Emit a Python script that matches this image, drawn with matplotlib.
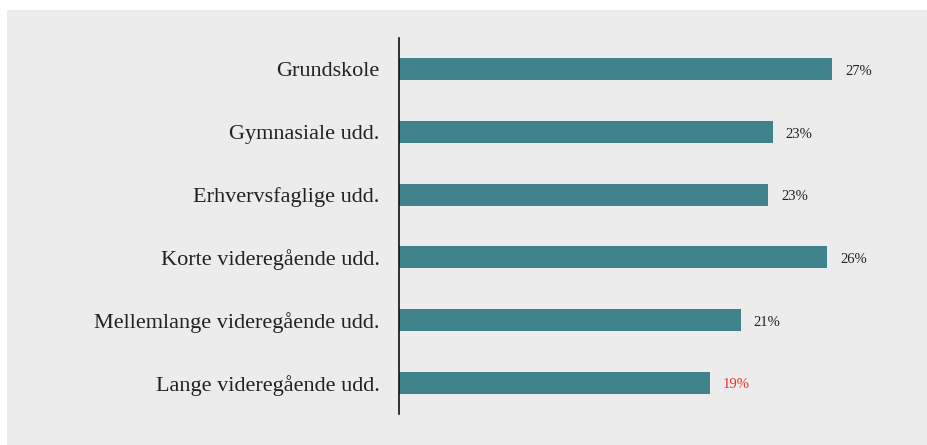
import matplotlib.pyplot as plt
from matplotlib.patches import Rectangle

categories = ['Grundskole', 'Gymnasiale udd.', 'Erhvervsfaglige udd.',
              'Korte videregående udd.', 'Mellemlange videregående udd.',
              'Lange videregående udd.']
values = [27.0, 23.3, 23.0, 26.7, 21.3, 19.4]
labels = ['27%', '23%', '23%', '26%', '21%', '19%']
label_colors = ['#222222'] * 5 + ['#e8312f']

plt.rcParams['font.family'] = ['Liberation Serif', 'DejaVu Serif']

fig = plt.figure(figsize=(9.28, 4.45), dpi=100)
fig.patch.set_facecolor('white')
# grey panel behind the chart
fig.patches.append(Rectangle((7 / 928, 0), 1, 1 - 10 / 445, transform=fig.transFigure,
                             facecolor='#ececec', edgecolor='none', zorder=-10))

ax = fig.add_axes([399 / 928, 1 - 414 / 445, 501 / 928, 376 / 445])
ax.set_facecolor('none')
y = list(range(len(categories)))
ax.barh(y, values, height=0.35, color='#40828c')
ax.set_xlim(0, 501 / 16.04)
ax.set_ylim(len(categories) - 0.5, -0.5)

for i, (v, t, c) in enumerate(zip(values, labels, label_colors)):
    ax.annotate(t, (v, i), xytext=(13, -2), textcoords='offset pixels',
                va='center', ha='left', fontsize=10.5, color=c)

ax.set_yticks(y)
ax.set_yticklabels(categories, fontsize=16, color='#222222')
ax.tick_params(axis='y', length=0, pad=14)
ax.set_xticks([])
for s in ['top', 'right', 'bottom']:
    ax.spines[s].set_visible(False)
ax.spines['left'].set_color('#111111')
ax.spines['left'].set_linewidth(1.2)

fig.savefig('out.png', dpi=100)
